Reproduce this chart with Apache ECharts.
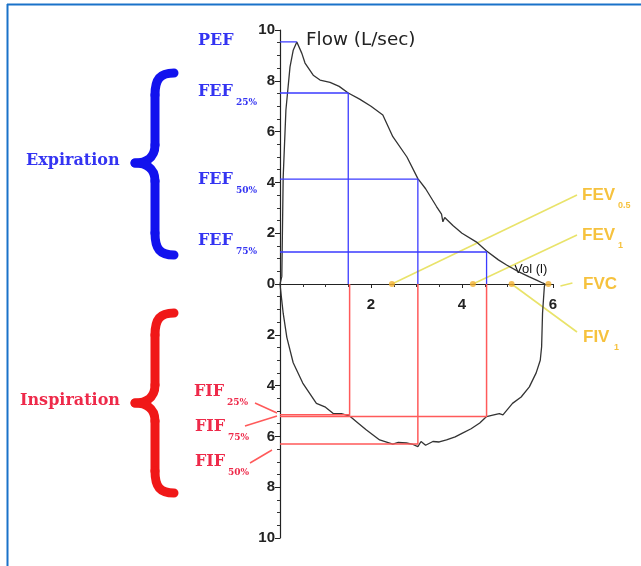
<!DOCTYPE html>
<html lang="en">
<head>
<meta charset="UTF-8">
<title>Flow-volume loop</title>
<script src="https://cdn.jsdelivr.net/npm/echarts@6/dist/echarts.min.js"></script>
<style>
  body { margin: 0; background: #fff; }
  #main { width: 641px; height: 566px; }
</style>
</head>
<body>
<div id="main"></div>
<script>
// expiratory limb: volume (l) / flow (L/sec)
const expVol  = [0, 0.04, 0.07, 0.13, 0.22, 0.29, 0.37, 0.48, 0.55, 0.73, 0.88, 1.1, 1.3, 1.5, 1.75, 2.0, 2.26, 2.48, 2.79, 3.03, 3.2, 3.44, 3.55, 3.58, 3.62, 3.8, 4.0, 4.32, 4.54, 4.8, 4.98, 5.25, 5.48, 5.65, 5.77, 5.83];
const expFlow = [0, 0.3, 4.2, 6.85, 8.55, 9.2, 9.53, 9.08, 8.7, 8.22, 8.03, 7.94, 7.78, 7.52, 7.28, 7.0, 6.65, 5.8, 5.0, 4.15, 3.75, 3.05, 2.75, 2.45, 2.62, 2.3, 2.0, 1.65, 1.3, 0.95, 0.75, 0.48, 0.28, 0.14, 0.04, 0];

// inspiratory limb
const insVol  = [0, 0.03, 0.07, 0.15, 0.29, 0.5, 0.8, 1.0, 1.17, 1.35, 1.53, 1.7, 1.9, 2.19, 2.48, 2.6, 2.78, 2.9, 3.03, 3.1, 3.2, 3.36, 3.5, 3.66, 3.85, 4.01, 4.2, 4.39, 4.54, 4.7, 4.82, 4.9, 5.11, 5.3, 5.48, 5.63, 5.72, 5.75, 5.77, 5.81, 5.83];
const insFlow = [0, -0.5, -1.15, -2.1, -3.1, -3.9, -4.7, -4.85, -5.1, -5.1, -5.2, -5.45, -5.75, -6.14, -6.3, -6.24, -6.26, -6.3, -6.4, -6.2, -6.35, -6.2, -6.22, -6.14, -6.02, -5.87, -5.7, -5.47, -5.22, -5.15, -5.1, -5.15, -4.7, -4.45, -4.05, -3.5, -3.0, -2.47, -1.15, -0.1, 0];

// expiratory markers
const pefVol = 0.37, pefFlow = 9.53;
const fefVol  = [1.5, 3.03, 4.54];        // 25%, 50%, 75%
const fefFlow = [7.52, 4.13, 1.26];

// inspiratory markers
const fifVol  = [1.53, 3.03, 4.54];       // 25%, 50%, 75%
const fifFlow = [-5.15, -6.3, -5.22];

// volume points on the x axis: FEV0.5, FEV1, FIV1, FVC
const volMarks = [2.46, 4.24, 5.09, 5.9];

const curveColor = '#333';
const blue = '#3b3bff';
const red = '#ff5a5a';
const yellowLine = '#e9e36a';
const yellowText = '#f6c23e';

function seg(points, color, width) {
  return {
    type: 'line',
    data: points,
    symbol: 'none',
    silent: true,
    animation: false,
    lineStyle: { color: color, width: width }
  };
}

let series = [];
series.push(seg(expVol.map((v, i) => [v, expFlow[i]]), curveColor, 1.3));
series.push(seg(insVol.map((v, i) => [v, insFlow[i]]), curveColor, 1.3));

series.push(seg([[0, pefFlow], [pefVol, pefFlow]], blue, 1.3));
for (let i = 0; i < fefVol.length; i++) {
  series.push(seg([[0, fefFlow[i]], [fefVol[i], fefFlow[i]], [fefVol[i], 0]], blue, 1.3));
}
for (let i = 0; i < fifVol.length; i++) {
  series.push(seg([[0, fifFlow[i]], [fifVol[i], fifFlow[i]], [fifVol[i], 0]], red, 1.5));
}

series.push({
  type: 'scatter',
  data: volMarks.map(v => [v, 0]),
  symbolSize: 6,
  silent: true,
  animation: false,
  z: 5,
  itemStyle: { color: '#f2b233' }
});

function txt(text, x, y, color, font) {
  return { type: 'text', x: x, y: y, silent: true,
    style: { text: text, fill: color, font: font, verticalAlign: 'middle' } };
}

function sub(main, small, x, y, color, size, weight, family, dx) {
  return [
    txt(main, x, y, color, weight + ' ' + size + 'px ' + family),
    txt(small, x + dx, y + 11, color, weight + ' 9px ' + family)
  ];
}

function brace(color, yTop, yMid, yBot) {
  const xe = 174, xs = 155, xt = 135;
  const st = { stroke: color, lineWidth: 9, fill: null, lineCap: 'round' };
  const bz = (s) => ({ type: 'bezierCurve', silent: true, shape: s, style: st });
  const ln = (y1, y2) => ({ type: 'line', silent: true, shape: { x1: xs, y1: y1, x2: xs, y2: y2 }, style: st });
  return [
    bz({ x1: xe, y1: yTop, cpx1: xs + 5, cpy1: yTop, cpx2: xs, cpy2: yTop + 6, x2: xs, y2: yTop + 22 }),
    ln(yTop + 22, yMid - 18),
    bz({ x1: xs, y1: yMid - 18, cpx1: xs, cpy1: yMid - 4, cpx2: xt + 9, cpy2: yMid, x2: xt, y2: yMid }),
    bz({ x1: xt, y1: yMid, cpx1: xt + 9, cpy1: yMid, cpx2: xs, cpy2: yMid + 4, x2: xs, y2: yMid + 18 }),
    ln(yMid + 18, yBot - 22),
    bz({ x1: xs, y1: yBot - 22, cpx1: xs, cpy1: yBot - 6, cpx2: xs + 5, cpy2: yBot, x2: xe, y2: yBot })
  ];
}

function stroke(x1, y1, x2, y2, color, w) {
  return { type: 'line', silent: true, shape: { x1: x1, y1: y1, x2: x2, y2: y2 },
    style: { stroke: color, lineWidth: w } };
}

const serif = '"DejaVu Serif"';
const sans = '"Liberation Sans"';
const blueText = '#3434f2';
const redText = '#ee2a4a';

let graphic = [
  // frame
  stroke(7, 4.5, 641, 4.5, '#1a72c9', 2),
  stroke(7.5, 4, 7.5, 566, '#1a72c9', 2),

  Object.assign(txt('Flow (L/sec)', 306, 41, '#222', '17px "DejaVu Sans"'), { scaleX: 1.08 }),
  txt('Vol (l)', 514, 269, '#111', '13px ' + sans),

  txt('PEF', 198, 41, blueText, 'bold 16px ' + serif),
  txt('Expiration', 26, 161, blueText, 'bold 16px ' + serif),
  txt('Inspiration', 20, 401, redText, 'bold 16px ' + serif),

  txt('FVC', 583, 284, yellowText, 'bold 17px ' + sans),
  stroke(255, 403, 277, 413, red, 1.5),
  stroke(245, 426, 277, 416, red, 1.5),
  stroke(250, 463, 272, 450, red, 1.5)
];
graphic = graphic.concat(
  sub('FEF', '25%', 198, 92, blueText, 16, 'bold', serif, 38),
  sub('FEF', '50%', 198, 180, blueText, 16, 'bold', serif, 38),
  sub('FEF', '75%', 198, 241, blueText, 16, 'bold', serif, 38),
  sub('FIF', '25%', 194, 392, redText, 16, 'bold', serif, 33),
  sub('FIF', '75%', 195, 427, redText, 16, 'bold', serif, 33),
  sub('FIF', '50%', 195, 462, redText, 16, 'bold', serif, 33),
  sub('FEV', '0.5', 582, 195, yellowText, 17, 'bold', sans, 36),
  sub('FEV', '1', 582, 235, yellowText, 17, 'bold', sans, 36),
  sub('FIV', '1', 583, 337, yellowText, 17, 'bold', sans, 31),
  brace('#1212ee', 73, 163, 255),
  brace('#f01818', 313, 403, 493)
);

let option = {
  animation: false,
  grid: { left: 280, top: 30, width: 273, height: 508 },
  xAxis: {
    type: 'value',
    min: 0,
    max: 6,
    interval: 2,
    offset: -254,
    axisLine: { onZero: false, lineStyle: { color: '#222', width: 1.2 } },
    axisTick: { show: true, length: 4, lineStyle: { color: '#222' } },
    minorTick: { show: true, splitNumber: 4, length: 3, lineStyle: { color: '#333' } },
    axisLabel: {
      margin: 13,
      color: '#222',
      fontFamily: 'Liberation Sans',
      fontWeight: 'bold',
      fontSize: 15,
      formatter: v => (v === 0 ? '' : String(v))
    },
    splitLine: { show: false }
  },
  yAxis: {
    type: 'value',
    min: -10,
    max: 10,
    interval: 2,
    axisLine: { show: true, lineStyle: { color: '#222', width: 1.2 } },
    axisTick: { show: true, length: 5, lineStyle: { color: '#222' } },
    minorTick: { show: true, splitNumber: 4, length: 3, lineStyle: { color: '#333' } },
    axisLabel: {
      margin: 5,
      color: '#222',
      fontFamily: 'Liberation Sans',
      fontWeight: 'bold',
      fontSize: 15,
      formatter: v => String(Math.abs(v))
    },
    splitLine: { show: false }
  },
  graphic: graphic,
  series: series
};

let chart = echarts.init(document.getElementById('main'));
chart.setOption(option);

// yellow leaders from the volume points to their labels
const leaderTo = [[577, 195], [577, 235], [577, 332]];
let leaders = [];
for (let i = 0; i < 3; i++) {
  const p = chart.convertToPixel({ gridIndex: 0 }, [volMarks[i], 0]);
  leaders.push(stroke(p[0], p[1], leaderTo[i][0], leaderTo[i][1], yellowLine, 1.6));
}
const pv = chart.convertToPixel({ gridIndex: 0 }, [volMarks[3], 0]);
leaders.push(stroke(pv[0] + 12, pv[1] + 2, pv[0] + 24, pv[1] - 1, yellowLine, 1.6));
chart.setOption({ graphic: graphic.concat(leaders) });
</script>
</body>
</html>
